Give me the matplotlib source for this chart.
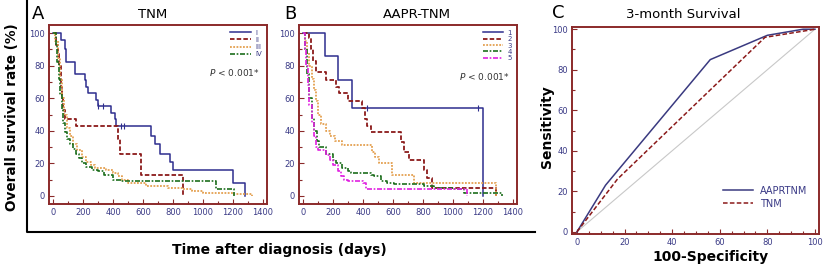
import matplotlib
matplotlib.use("Agg")
import matplotlib.pyplot as plt
from matplotlib.lines import Line2D
from matplotlib.ticker import MultipleLocator

# -------------------------------------------
# Data
# -------------------------------------------
# Panel A: TNM stages, Kaplan-Meier steps (day, survival %)
a_I_t = [0, 56, 78, 89, 144, 211, 218, 233, 289, 300, 389, 411, 422, 656, 678, 711, 778, 800, 1200, 1278]
a_I_s = [100, 96, 90, 82, 75, 71, 67, 63, 59, 55, 51, 47, 43, 37, 32, 26, 21, 16, 8, 0]
a_II_t = [0, 22, 32, 42, 50, 56, 62, 68, 78, 151, 433, 445, 589, 867]
a_II_s = [100, 93, 87, 80, 73, 67, 60, 53, 47, 43, 35, 26, 13, 0]
a_III_t = [0, 15, 30, 45, 60, 75, 90, 110, 130, 160, 190, 220, 250, 280, 350, 400, 430, 460, 500, 620, 770, 870, 930, 1000, 1200, 1330]
a_III_s = [100, 95, 85, 72, 60, 50, 42, 37, 32, 28, 24, 21, 19, 17, 16, 14, 12, 10, 8, 6, 5, 4, 3, 2, 1, 0]
a_IV_t = [0, 18, 28, 38, 48, 58, 68, 80, 95, 110, 130, 150, 170, 190, 220, 260, 300, 340, 400, 450, 1085, 1205]
a_IV_s = [100, 92, 82, 72, 62, 53, 45, 39, 35, 32, 29, 26, 23, 20, 18, 16, 15, 13, 10, 9, 4, 0]

# Panel B: AAPR-TNM stages
b_1_t = [0, 143, 228, 328, 1205]
b_1_s = [100, 86, 71.5, 54, 0]
b_2_t = [0, 38, 50, 65, 83, 150, 216, 239, 295, 395, 410, 425, 451, 652, 675, 708, 808, 830, 864, 1288]
b_2_s = [100, 97, 90, 83, 76, 71, 67, 63, 58, 54, 47, 43, 39, 33, 27, 22, 16, 11, 5, 0]
b_3_t = [0, 10, 25, 40, 55, 70, 85, 100, 120, 150, 180, 210, 261, 462, 480, 507, 596, 741, 1288]
b_3_s = [100, 95, 88, 80, 72, 65, 58, 50, 44, 40, 37, 34, 31, 27, 24, 20, 13, 8, 0]
b_4_t = [0, 10, 25, 40, 55, 70, 90, 105, 150, 200, 216, 260, 300, 317, 451, 473, 518, 560, 607, 808, 875, 1000, 1076, 1330]
b_4_s = [100, 90, 75, 60, 48, 40, 34, 30, 26, 22, 20, 17, 15, 14, 13, 12, 9, 8, 7, 6, 5, 4, 2, 0]
b_5_t = [0, 10, 20, 30, 40, 55, 70, 85, 100, 150, 180, 200, 228, 250, 270, 295, 400, 417, 1098]
b_5_s = [100, 90, 80, 68, 56, 45, 37, 30, 28, 25, 22, 19, 15, 12, 10, 9, 8, 4, 0]

# censored observations (day, survival %) for a few curves
a_I_cens_t = [300, 330, 450, 470]
a_I_cens_s = [55, 55, 43, 43]
b_1_cens_t = [425, 1170]
b_1_cens_s = [54, 54]

# Panel C: ROC curves for 3-month survival
roc_aapr_x = [0, 12, 56, 80, 95, 100]
roc_aapr_y = [0, 23, 85, 97, 100, 100]
roc_tnm_x = [0, 17, 79, 100]
roc_tnm_y = [0, 26, 96, 100]

km_ticks = [0, 200, 400, 600, 800, 1000, 1200, 1400]
pct_ticks = [0, 20, 40, 60, 80, 100]

# -------------------------------------------
# Styling
# -------------------------------------------
W, H = 824, 268
FRAME = '#8b2a2a'
NAVY = '#3a3a86'
TICKFONT = ['Liberation Sans Narrow', 'DejaVu Sans']

fig = plt.figure(figsize=(W / 100, H / 100), dpi=100)


def box(l, r, t, b):
    return [l / W, (H - b) / H, (r - l) / W, (b - t) / H]


def style_axes(ax, xminor, yminor):
    for sp in ax.spines.values():
        sp.set_color(FRAME)
        sp.set_linewidth(1.4)
    ax.xaxis.set_minor_locator(MultipleLocator(xminor))
    ax.yaxis.set_minor_locator(MultipleLocator(yminor))
    ax.tick_params(which='both', direction='in', colors=FRAME, labelcolor=NAVY,
                   labelsize=6, width=0.8, pad=3)
    ax.tick_params(which='major', length=3.5)
    ax.tick_params(which='minor', length=2)
    for lab in ax.get_xticklabels() + ax.get_yticklabels():
        lab.set_family(TICKFONT)


km_styles = [
    dict(color='#2e2e8e', ls='-', lw=1.1),
    dict(color='#8b1a1a', ls=(0, (2.5, 1.2)), lw=1.3),
    dict(color='#e4a050', ls=(0, (1, 0.8)), lw=1.3),
    dict(color='#1d6e1d', ls=(0, (3, 1, 1, 1)), lw=1.2),
    dict(color='#e020e0', ls=(0, (3, 1, 1, 1)), lw=1.2),
]

# ---- Panel A
axA = fig.add_axes(box(49, 267, 25, 204))
for (t, s), lab, st in zip([(a_I_t, a_I_s), (a_II_t, a_II_s), (a_III_t, a_III_s), (a_IV_t, a_IV_s)],
                           ['I', 'II', 'III', 'IV'], km_styles):
    axA.step(t, s, where='post', label=lab, **st)
axA.plot(a_I_cens_t, a_I_cens_s, ls='none', marker='|', ms=4, color='#2e2e8e', mew=0.8)
axA.set_xlim(-27, 1427)
axA.set_ylim(-5, 105)
axA.set_xticks(km_ticks)
axA.set_yticks(pct_ticks)
style_axes(axA, 100, 10)
legA = axA.legend(loc='upper right', fontsize=5, frameon=False, handlelength=3,
                  labelspacing=0.15, borderaxespad=0.3, handletextpad=0.6)
for txt in legA.get_texts():
    txt.set_color(NAVY)
axA.text(0.968, 0.732, r'$P$ < 0.001*', transform=axA.transAxes, ha='right', va='center',
         fontsize=6.5, color='#333333')

# ---- Panel B
axB = fig.add_axes(box(299, 517, 25, 204))
for (t, s), lab, st in zip([(b_1_t, b_1_s), (b_2_t, b_2_s), (b_3_t, b_3_s), (b_4_t, b_4_s), (b_5_t, b_5_s)],
                           ['1', '2', '3', '4', '5'], km_styles):
    axB.step(t, s, where='post', label=lab, **st)
axB.plot(b_1_cens_t, b_1_cens_s, ls='none', marker='|', ms=4, color='#2e2e8e', mew=0.8)
axB.set_xlim(-30, 1430)
axB.set_ylim(-5, 105)
axB.set_xticks(km_ticks)
axB.set_yticks(pct_ticks)
style_axes(axB, 100, 10)
legB = axB.legend(loc='upper right', fontsize=5, frameon=False, handlelength=3,
                  labelspacing=0.05, borderaxespad=0.3, handletextpad=0.6)
for txt in legB.get_texts():
    txt.set_color(NAVY)
axB.text(0.968, 0.715, r'$P$ < 0.001*', transform=axB.transAxes, ha='right', va='center',
         fontsize=6.5, color='#333333')

# ---- Panel C
axC = fig.add_axes(box(572, 819, 27, 234))
axC.plot([0, 100], [0, 100], color='#c8c8c8', lw=0.8)
axC.plot(roc_aapr_x, roc_aapr_y, color='#3a3a80', lw=1.1, label='AAPRTNM')
axC.plot(roc_tnm_x, roc_tnm_y, color='#8b1a1a', lw=1.1, ls=(0, (3, 1.5)), label='TNM')
axC.set_xlim(-2.1, 101.7)
axC.set_ylim(-1.1, 101.1)
axC.set_xticks(pct_ticks)
axC.set_yticks(pct_ticks)
style_axes(axC, 5, 10)
legC = axC.legend(loc='lower right', fontsize=7, frameon=False, handlelength=3,
                  labelspacing=0.3, bbox_to_anchor=(0.99, 0.08), handletextpad=0.8)
for txt in legC.get_texts():
    txt.set_color(NAVY)

# ---- Titles, panel letters and labels (figure pixel coords)
def ftext(x, y, s, **kw):
    fig.text(x / W, 1 - y / H, s, **kw)


ftext(32, 14, 'A', fontsize=13, ha='left', va='center')
ftext(153, 14, 'TNM', fontsize=9.5, ha='center', va='center')
ftext(284, 14, 'B', fontsize=13, ha='left', va='center')
ftext(417, 14, 'AAPR-TNM', fontsize=9.5, ha='center', va='center')
ftext(552, 13, 'C', fontsize=13, ha='left', va='center')
ftext(683, 14, '3-month Survival', fontsize=9.5, ha='center', va='center')

ftext(12, 117, 'Overall survival rate (%)', fontsize=9.8, fontweight='bold',
      rotation=90, ha='center', va='center')
ftext(279, 250, 'Time after diagnosis (days)', fontsize=10, fontweight='bold',
      ha='center', va='center')
ftext(547, 127, 'Sensitivity', fontsize=10, fontweight='bold',
      rotation=90, ha='center', va='center')
ftext(710, 257, '100-Specificity', fontsize=10, fontweight='bold',
      ha='center', va='center')

# black frame around panels A and B
fig.add_artist(Line2D([27 / W, 27 / W, 535 / W], [1, 1 - 232 / H, 1 - 232 / H],
                      color='black', lw=1.5))

fig.savefig('out.png', dpi=100)
